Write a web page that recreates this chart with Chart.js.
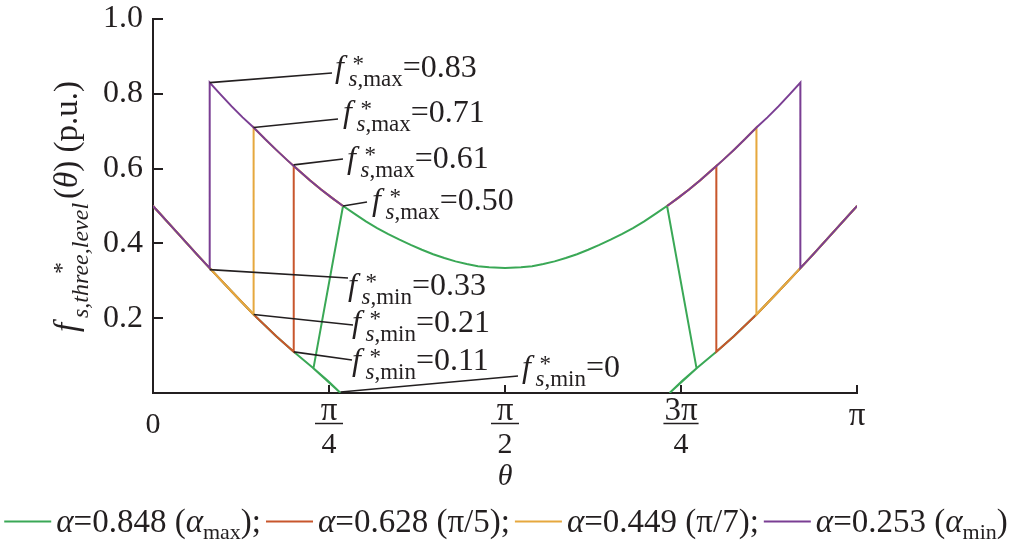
<!DOCTYPE html>
<html>
<head>
<meta charset="utf-8">
<title>f*s,three,level</title>
<script src="https://cdn.jsdelivr.net/npm/chart.js@4/dist/chart.umd.min.js"></script>
<style>
  html, body { margin: 0; padding: 0; background: #fff; }
  canvas { display: block; }
</style>
</head>
<body>
<canvas id="chart" width="1012" height="551"></canvas>
<script>
// upper envelope, theta in rad
const upperTheta = [0.253, 0.3, 0.35, 0.4, 0.449, 0.5, 0.55, 0.6, 0.628, 0.7, 0.75, 0.8, 0.848,
  0.9, 0.95, 1.0, 1.05, 1.1, 1.15, 1.2, 1.25, 1.3, 1.35, 1.4, 1.45, 1.5, 1.571,
  1.642, 1.692, 1.742, 1.792, 1.842, 1.892, 1.942, 1.992, 2.042, 2.092, 2.142, 2.192, 2.242,
  2.294, 2.342, 2.392, 2.442, 2.514, 2.542, 2.592, 2.642, 2.693, 2.742, 2.792, 2.842, 2.889];
const upperF = [0.83, 0.799, 0.767, 0.737, 0.71, 0.679, 0.65, 0.622, 0.607, 0.569, 0.544, 0.521, 0.50,
  0.479, 0.459, 0.441, 0.425, 0.410, 0.396, 0.383, 0.371, 0.361, 0.352, 0.345, 0.339, 0.336, 0.334,
  0.336, 0.339, 0.345, 0.352, 0.361, 0.371, 0.383, 0.396, 0.410, 0.425, 0.441, 0.459, 0.479,
  0.50, 0.521, 0.544, 0.569, 0.607, 0.622, 0.65, 0.679, 0.71, 0.737, 0.767, 0.799, 0.83];

// lower envelope
const lowerTheta = [0, 0.1, 0.2, 0.253, 0.35, 0.449, 0.55, 0.628, 0.716, 0.78, 0.837,
  2.305, 2.362, 2.426, 2.514, 2.592, 2.693, 2.792, 2.889, 2.942, 3.042, 3.142];
const lowerF = [0.50, 0.434, 0.368, 0.334, 0.272, 0.21, 0.152, 0.11, 0.066, 0.033, 0,
  0, 0.033, 0.066, 0.11, 0.152, 0.21, 0.272, 0.334, 0.368, 0.434, 0.50];

// one entry per alpha: green, red, orange, purple
const seriesAlpha = [0.848, 0.628, 0.449, 0.253];
const seriesNote = ['max', 'π/5', 'π/7', 'min'];
const seriesColor = ['#3aa856', '#c8562c', '#e6a83e', '#7a3e93'];
const fMax = [0.50, 0.61, 0.71, 0.83];
const fMin = [0, 0.11, 0.21, 0.33];
const lowEnd = [0.837, 0.628, 0.449, 0.253];   // lower curve followed up to here
const footTheta = [0.716, 0.628, 0.449, 0.253]; // where the jump leaves the lower curve
const footF = [0.066, 0.11, 0.21, 0.334];

const xTickVals = [0, Math.PI / 4, Math.PI / 2, 3 * Math.PI / 4, Math.PI];
const xTickLabels = [['0'], ['π', '4'], ['π', '2'], ['3π', '4'], ['π']];
const yTickVals = [0.2, 0.4, 0.6, 0.8, 1.0];

const ink = '#231f20';
const serif = '"Liberation Serif", "Times New Roman", serif';

function buildPath(i) {
  const a = seriesAlpha[i];
  const aJoin = seriesAlpha[0];
  const pts = [];
  let gap = false;
  lowerTheta.forEach((t, k) => {
    if (t <= lowEnd[i] + 1e-3) pts.push({ x: t, y: lowerF[k] });
  });
  pts.push({ x: footTheta[i], y: footF[i] });
  upperTheta.forEach((t, k) => {
    if (t < a - 1e-3 || t > Math.PI - a + 1e-3) return;
    if (i > 0 && t > aJoin + 1e-3 && t < Math.PI - aJoin - 1e-3) {
      if (!gap) { pts.push({ x: Math.PI / 2, y: null }); gap = true; }
      return;
    }
    pts.push({ x: t, y: upperF[k] });
  });
  pts.push({ x: Math.PI - footTheta[i], y: footF[i] });
  lowerTheta.forEach((t, k) => {
    if (t >= Math.PI - lowEnd[i] - 1e-3) pts.push({ x: t, y: lowerF[k] });
  });
  return pts;
}

function font(size, italic) {
  return (italic ? 'italic ' : '') + size + 'px ' + serif;
}

function runs(ctx, x, y, parts) {
  for (const [t, size, it, dy] of parts) {
    ctx.font = font(size, it);
    ctx.fillText(t, x, y + (dy || 0));
    x += ctx.measureText(t).width;
  }
  return x;
}

// f*_{s,sub}
function fStar(ctx, x, y, sub, size) {
  const s = Math.round(size * 0.72);
  ctx.font = font(size, true);
  ctx.fillText('f', x, y);
  ctx.font = font(s, false);
  ctx.fillText('*', x + size * 0.55, y - size * 0.2);
  return runs(ctx, x + size * 0.42, y + size * 0.27, [['s', s, true], [',' + sub, s, false]]);
}

// label text position (x, baseline) and leader end, per series
const maxLabelPos = [[372, 210, 367, 202], [347, 168, 343, 159], [343, 122, 338, 119], [335, 77, 332, 73]];
const minLabelPos = [[522, 377, 518, 376], [352, 370, 352, 360], [352, 332, 353, 325], [348, 295, 348, 278]];

const decor = {
  id: 'decor',
  afterDraw(chart) {
    const { ctx, chartArea: ca } = chart;
    const xs = chart.scales.x, ys = chart.scales.y;
    ctx.save();
    ctx.fillStyle = ink;
    ctx.strokeStyle = ink;

    // inward ticks
    ctx.lineWidth = 2;
    ctx.beginPath();
    yTickVals.forEach(v => {
      const py = Math.round(ys.getPixelForValue(v));
      ctx.moveTo(ca.left, py); ctx.lineTo(ca.left + 10, py);
    });
    xTickVals.slice(1).forEach(v => {
      const px = Math.round(xs.getPixelForValue(v));
      ctx.moveTo(px, ca.bottom); ctx.lineTo(px, ca.bottom - 8);
    });
    ctx.stroke();

    // x tick labels
    ctx.textAlign = 'center';
    ctx.textBaseline = 'alphabetic';
    xTickVals.forEach((v, k) => {
      const px = xs.getPixelForValue(v);
      const lab = xTickLabels[k];
      if (lab.length === 1) {
        ctx.font = font(lab[0] === '0' ? 30 : 33, false);
        ctx.fillText(lab[0], px, lab[0] === '0' ? 433 : 425);
      } else {
        ctx.font = font(33, false);
        ctx.fillText(lab[0], px, 420);
        const w = Math.max(28, ctx.measureText(lab[0]).width + 2);
        ctx.font = font(30, false);
        ctx.fillText(lab[1], px, 453);
        ctx.lineWidth = 1.5;
        ctx.beginPath();
        ctx.moveTo(px - w / 2, 423.5); ctx.lineTo(px + w / 2, 423.5);
        ctx.stroke();
      }
    });

    // x title
    ctx.font = font(30, true);
    ctx.fillText('θ', xs.getPixelForValue(Math.PI / 2), 485);
    ctx.textAlign = 'left';

    // y title, rotated
    ctx.save();
    ctx.translate(77, 332);
    ctx.rotate(-Math.PI / 2);
    ctx.font = font(33, true);
    ctx.fillText('f', 0, 0);
    ctx.font = font(24, false);
    ctx.fillText('*', 58, -8);
    const ySubEnd = runs(ctx, 14, 11, [['s,three,level', 24, true]]);
    runs(ctx, ySubEnd + 4, 0, [['(', 33, false], ['θ', 33, true], [') (p.u.)', 33, false]]);
    ctx.restore();

    // leader lines and labels
    ctx.lineWidth = 1.6;
    seriesAlpha.forEach((a, i) => {
      const ax = xs.getPixelForValue(a), ay = ys.getPixelForValue(fMax[i]);
      const [tx, ty, ex, ey] = maxLabelPos[i];
      ctx.beginPath(); ctx.moveTo(ax, ay); ctx.lineTo(ex, ey); ctx.stroke();
      const e = fStar(ctx, tx, ty, 'max', 32);
      runs(ctx, e, ty, [['=' + fMax[i].toFixed(2), 32, false]]);

      const bx = xs.getPixelForValue(lowEnd[i]), by = ys.getPixelForValue(fMin[i]);
      const [ux, uy, fx, fy] = minLabelPos[i];
      ctx.beginPath(); ctx.moveTo(bx, by - (fMin[i] === 0 ? 1 : 0)); ctx.lineTo(fx, fy); ctx.stroke();
      const e2 = fStar(ctx, ux, uy, 'min', 32);
      runs(ctx, e2, uy, [['=' + (fMin[i] === 0 ? '0' : fMin[i].toFixed(2)), 32, false]]);
    });

    // legend
    const lineLen = 47, size = 33, sub = 22;
    const items = seriesAlpha.map((a, i) => {
      const head = [['α', size, true], ['=' + a.toFixed(3) + ' (', size, false]];
      const sep = i < seriesAlpha.length - 1 ? ';' : '';
      if (seriesNote[i] === 'max' || seriesNote[i] === 'min') {
        return head.concat([['α', size, true], [seriesNote[i], sub, false, 7], [')' + sep, size, false]]);
      }
      return head.concat([[seriesNote[i] + ')' + sep, size, false]]);
    });
    const widthOf = parts => parts.reduce((w, [t, s, it]) => { ctx.font = font(s, it); return w + ctx.measureText(t).width; }, 0);
    const gapA = 5, gapB = 5;
    const total = items.reduce((w, p) => w + lineLen + gapA + widthOf(p) + gapB, 0) - gapB;
    let lx = (chart.width - total) / 2;
    items.forEach((parts, i) => {
      ctx.strokeStyle = seriesColor[i];
      ctx.lineWidth = 2;
      ctx.beginPath(); ctx.moveTo(lx, 521.5); ctx.lineTo(lx + lineLen, 521.5); ctx.stroke();
      lx = runs(ctx, lx + lineLen + gapA, 531.5, parts) + gapB;
    });
    ctx.restore();
  }
};

const ctx = document.getElementById('chart').getContext('2d');
new Chart(ctx, {
  type: 'line',
  data: {
    datasets: seriesAlpha.map((a, i) => ({
      label: 'α=' + a,
      data: buildPath(i),
      borderColor: seriesColor[i],
      borderWidth: 2,
      pointRadius: 0,
      tension: 0,
      fill: false,
      order: seriesAlpha.length - 1 - i
    }))
  },
  options: {
    responsive: false,
    animation: false,
    layout: { padding: { top: 19, right: 155, left: 0, bottom: 0 } },
    plugins: { legend: { display: false }, tooltip: { enabled: false } },
    scales: {
      x: {
        type: 'linear',
        min: 0,
        max: Math.PI,
        afterBuildTicks: s => { s.ticks = xTickVals.map(v => ({ value: v })); },
        afterFit: s => { s.height = 158; s.paddingLeft = 0; s.paddingRight = 0; },
        ticks: { display: false },
        grid: { display: false, drawTicks: false },
        border: { display: true, color: ink, width: 2 }
      },
      y: {
        type: 'linear',
        min: 0,
        max: 1,
        afterFit: s => { s.width = 153; s.paddingTop = 0; s.paddingBottom = 0; },
        ticks: {
          stepSize: 0.2,
          padding: 10,
          color: ink,
          font: { family: serif, size: 32 },
          callback: v => (Math.abs(v) < 1e-9 ? '' : v.toFixed(1))
        },
        grid: { display: false, drawTicks: false },
        border: { display: true, color: ink, width: 2 }
      }
    }
  },
  plugins: [decor]
});
</script>
</body>
</html>
